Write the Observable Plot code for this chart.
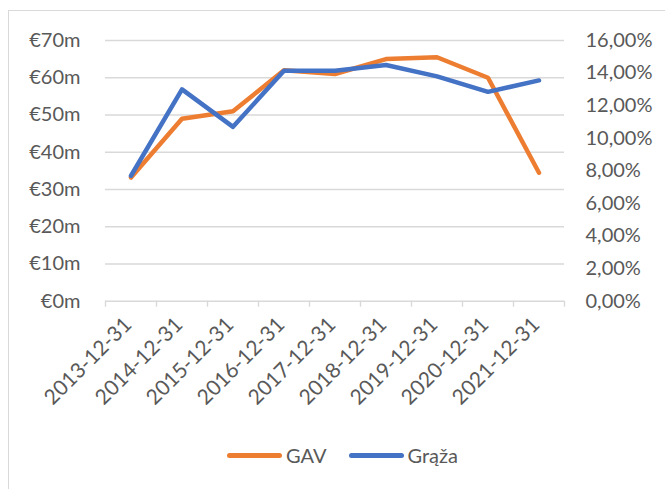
<!DOCTYPE html>
<html><head><meta charset="utf-8">
<script src="https://cdn.jsdelivr.net/npm/d3@7"></script>
<script src="https://cdn.jsdelivr.net/npm/@observablehq/plot@0.6"></script>
<style>
body{margin:0;background:#fff;font-family:Lato,sans-serif;width:665px;height:489px;overflow:hidden;position:relative;}
#frame{position:absolute;left:8px;top:10px;width:700px;height:500px;border-top:1.5px solid #d9d9d9;border-left:1.5px solid #d9d9d9;}
#chart{position:absolute;left:0;top:0;}
#legend{position:absolute;top:443px;left:227px;display:flex;align-items:center;font-size:20px;color:#595959;white-space:nowrap;}
.sw{display:inline-block;width:55px;height:5px;border-radius:3px;margin-right:4px;}
.item{display:flex;align-items:center;margin-right:22px;}
</style></head>
<body>
<div id="frame"></div>
<div id="chart"></div>
<div id="legend"></div>
<script>
const dates = ["2013-12-31","2014-12-31","2015-12-31","2016-12-31","2017-12-31","2018-12-31","2019-12-31","2020-12-31","2021-12-31"];
const gav = [33.2, 49, 51, 62, 61, 65, 65.5, 60, 34.5];
const graza = [7.7, 13.0, 10.7, 14.15, 14.15, 14.5, 13.8, 12.85, 13.55];
const leftTicks = [0,10,20,30,40,50,60,70];
const rightTicks = [0,2,4,6,8,10,12,14,16];
const seriesNames = ["GAV","Grąža"];
const colors = ["#ED7D31","#4472C4"];

const pctToY = p => p * 70 / 16;
const rows = dates.map((d,i)=>({i, date:d, gav:gav[i], graza:graza[i]}));

const chart = Plot.plot({
  width:665, height:420,
  marginLeft:105, marginRight:101, marginTop:40, marginBottom:119.3,
  x:{domain:[-0.5,8.5]}, y:{domain:[0,70]},
  style:{fontFamily:"Lato, sans-serif", fontSize:"20px", color:"#595959", background:"transparent"},
  marks:[
    Plot.ruleY(leftTicks, {stroke:"#d9d9d9", strokeWidth:1.4}),
    Plot.ruleX(d3.range(-0.5, 9, 1), {y1:0, y2:0, insetBottom:-6, stroke:"#d9d9d9", strokeWidth:1.4}),
    Plot.axisY(leftTicks, {anchor:"left", tickSize:0, tickPadding:25, tickFormat:d=>`€${d}m`, label:null}),
    Plot.axisY(rightTicks.map(pctToY), {anchor:"right", tickSize:0, tickPadding:21, tickFormat:d=>(d*16/70).toFixed(2).replace(".",",")+"%", label:null}),
    Plot.axisX(d3.range(dates.length), {tickRotate:-45, tickSize:0, tickPadding:20, dx:-3, fontSize:21, tickFormat:i=>dates[i], label:null}),
    Plot.lineY(rows, {x:"i", y:"gav", stroke:colors[0], strokeWidth:4.5}),
    Plot.lineY(rows, {x:"i", y:d=>pctToY(d.graza), stroke:colors[1], strokeWidth:4.5})
  ]
});
document.getElementById("chart").appendChild(chart);

const lg = document.getElementById("legend");
seriesNames.forEach((n,k)=>{
  const it = document.createElement("div"); it.className="item";
  const sw = document.createElement("span"); sw.className="sw"; sw.style.background=colors[k];
  const t = document.createElement("span"); t.textContent=n;
  it.appendChild(sw); it.appendChild(t); lg.appendChild(it);
});
</script>
</body></html>
